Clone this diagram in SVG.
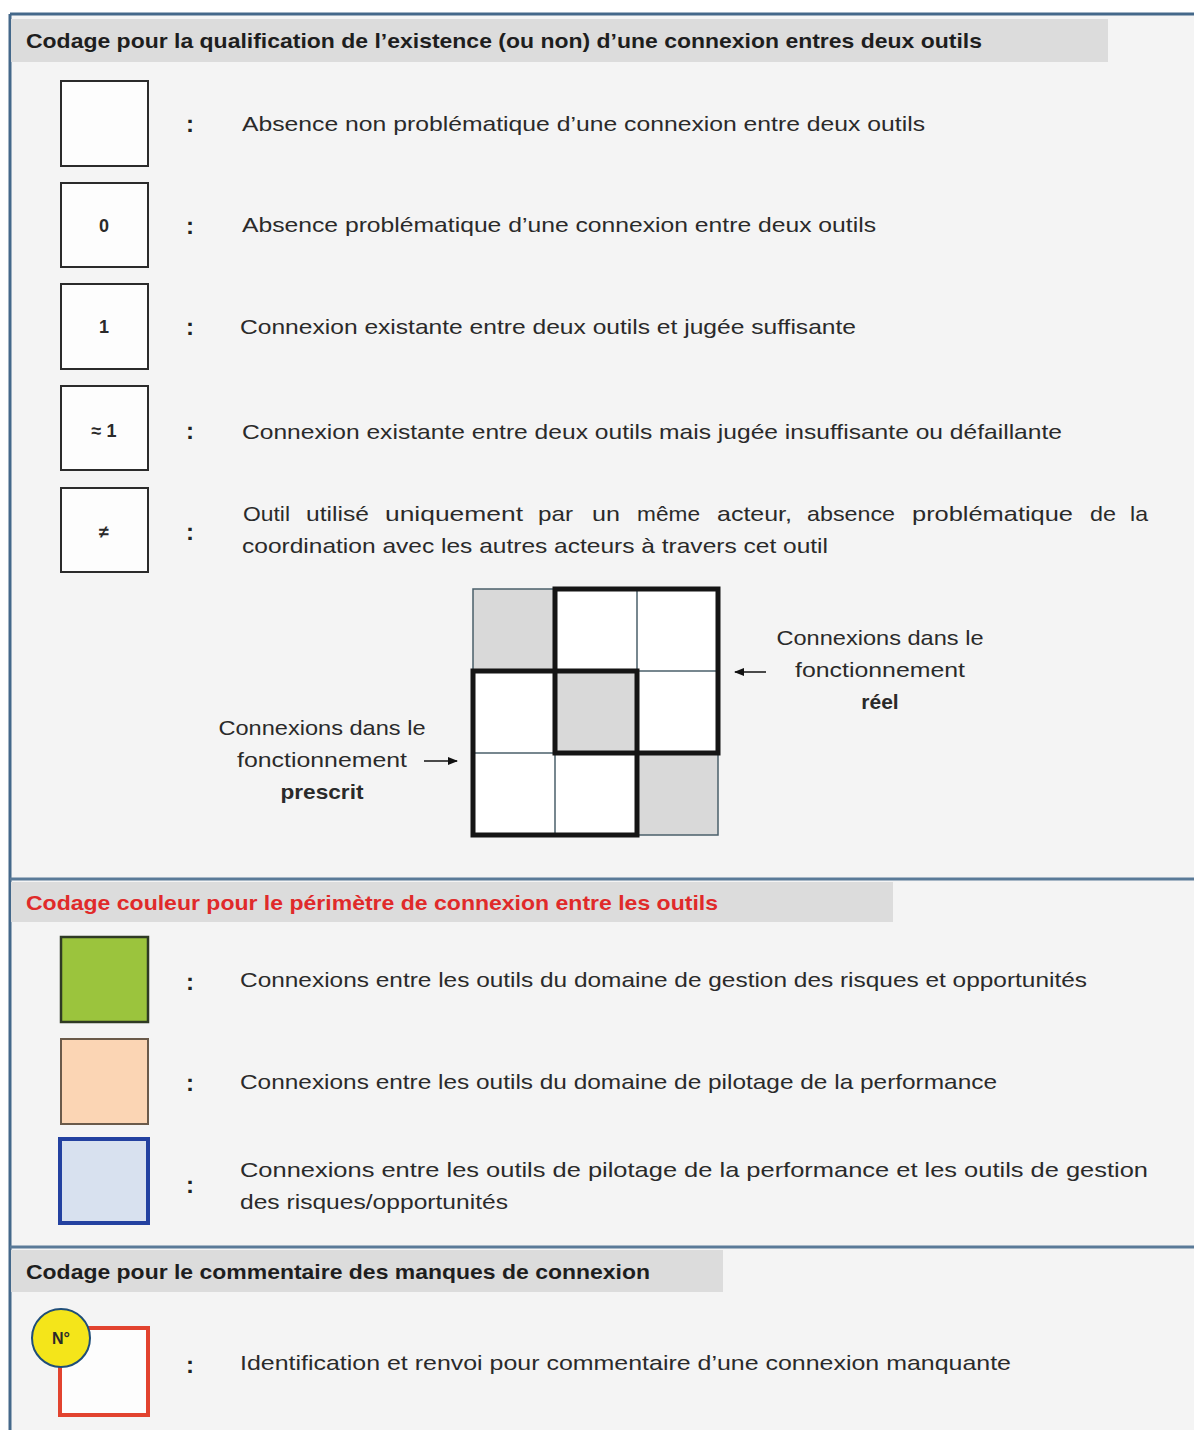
<svg xmlns="http://www.w3.org/2000/svg" width="1194" height="1430" viewBox="0 0 1194 1430">
<style>
.t{font-family:"Liberation Sans",Arial,sans-serif;font-size:21px;fill:#2a2a2a}
.h{font-family:"Liberation Sans",Arial,sans-serif;font-size:21px;font-weight:bold;fill:#1e1e1e}
.b{font-weight:bold}
.c{font-family:"Liberation Sans",Arial,sans-serif;font-size:24px;font-weight:bold;fill:#222}
.box{fill:#fdfdfd;stroke:#2b2b2b;stroke-width:2}
.bar{fill:#dcdcdc}
.sep{stroke:#5a7a98;stroke-width:3}
.thin{stroke:#4a5f6a;stroke-width:1.5;fill:none}
.thick{stroke:#151515;stroke-width:5;fill:none}
.arr{stroke:#111;stroke-width:1.5}
</style>
<defs>
<marker id="ah" markerWidth="10" markerHeight="8" refX="9" refY="4" orient="auto" markerUnits="userSpaceOnUse">
<path d="M0,0 L10,4 L0,8 Z" fill="#111"/>
</marker>
</defs>
<rect x="0" y="0" width="1194" height="1430" fill="#ffffff"/>
<rect x="10" y="14" width="1184" height="1416" fill="#f4f4f4"/>
<line x1="10" y1="14" x2="1194" y2="14" stroke="#44688a" stroke-width="3"/>
<line x1="10" y1="14" x2="10" y2="1430" stroke="#44688a" stroke-width="3"/>

<!-- Section 1 -->
<g id="header1">
<rect class="bar" x="11" y="19" width="1097" height="43"/>
<text class="h" x="26" y="48" textLength="956" lengthAdjust="spacingAndGlyphs">Codage pour la qualification de l’existence (ou non) d’une connexion entres deux outils</text>
</g>
<g id="item1">
<rect class="box" x="61" y="81" width="87" height="85"/>
<text class="c" x="190" y="132" text-anchor="middle">:</text>
<text class="t" x="242" y="131" textLength="683" lengthAdjust="spacingAndGlyphs">Absence non problématique d’une connexion entre deux outils</text>
</g>
<g id="item2">
<rect class="box" x="61" y="183" width="87" height="84"/>
<text class="t b" x="104" y="232" text-anchor="middle" style="font-size:18px">0</text>
<text class="c" x="190" y="234" text-anchor="middle">:</text>
<text class="t" x="242" y="232" textLength="634" lengthAdjust="spacingAndGlyphs">Absence problématique d’une connexion entre deux outils</text>
</g>
<g id="item3">
<rect class="box" x="61" y="284" width="87" height="85"/>
<text class="t b" x="104" y="333" text-anchor="middle" style="font-size:18px">1</text>
<text class="c" x="190" y="335" text-anchor="middle">:</text>
<text class="t" x="240" y="334" textLength="616" lengthAdjust="spacingAndGlyphs">Connexion existante entre deux outils et jugée suffisante</text>
</g>
<g id="item4">
<rect class="box" x="61" y="386" width="87" height="84"/>
<text class="t b" x="104" y="437" text-anchor="middle" style="font-size:18px">≈ 1</text>
<text class="c" x="190" y="439" text-anchor="middle">:</text>
<text class="t" x="242" y="439" textLength="820" lengthAdjust="spacingAndGlyphs">Connexion existante entre deux outils mais jugée insuffisante ou défaillante</text>
</g>
<g id="item5">
<rect class="box" x="61" y="488" width="87" height="84"/>
<text class="t b" x="104" y="538" text-anchor="middle" style="font-size:18px">≠</text>
<text class="c" x="190" y="540" text-anchor="middle">:</text>
<text class="t" x="243" y="521" textLength="47" lengthAdjust="spacingAndGlyphs">Outil</text>
<text class="t" x="306" y="521" textLength="63" lengthAdjust="spacingAndGlyphs">utilisé</text>
<text class="t" x="385" y="521" textLength="138" lengthAdjust="spacingAndGlyphs">uniquement</text>
<text class="t" x="538" y="521" textLength="35" lengthAdjust="spacingAndGlyphs">par</text>
<text class="t" x="592" y="521" textLength="28" lengthAdjust="spacingAndGlyphs">un</text>
<text class="t" x="637" y="521" textLength="63" lengthAdjust="spacingAndGlyphs">même</text>
<text class="t" x="717" y="521" textLength="75" lengthAdjust="spacingAndGlyphs">acteur,</text>
<text class="t" x="807" y="521" textLength="88" lengthAdjust="spacingAndGlyphs">absence</text>
<text class="t" x="912" y="521" textLength="161" lengthAdjust="spacingAndGlyphs">problématique</text>
<text class="t" x="1090" y="521" textLength="26" lengthAdjust="spacingAndGlyphs">de</text>
<text class="t" x="1130" y="521" textLength="18" lengthAdjust="spacingAndGlyphs">la</text>
<text class="t" x="242" y="553" textLength="586" lengthAdjust="spacingAndGlyphs">coordination avec les autres acteurs à travers cet outil</text>
</g>

<!-- Grid -->
<g id="grid">
<rect x="473" y="589" width="245" height="246" fill="#ffffff"/>
<rect x="473" y="589" width="82" height="82" fill="#d9d9d9"/>
<rect x="555" y="671" width="82" height="82" fill="#d9d9d9"/>
<rect x="637" y="753" width="81" height="82" fill="#d9d9d9"/>
<rect class="thin" x="473" y="589" width="245" height="246"/>
<line class="thin" x1="555" y1="589" x2="555" y2="835"/>
<line class="thin" x1="637" y1="589" x2="637" y2="835"/>
<line class="thin" x1="473" y1="671" x2="718" y2="671"/>
<line class="thin" x1="473" y1="753" x2="718" y2="753"/>
</g>
<g id="reel">
<rect class="thick" x="555" y="589" width="163" height="164"/>
</g>
<g id="prescrit">
<rect class="thick" x="473" y="671" width="164" height="164"/>
</g>
<g id="label-reel">
<text class="t" x="880" y="645" text-anchor="middle" textLength="207" lengthAdjust="spacingAndGlyphs">Connexions dans le</text>
<text class="t" x="880" y="677" text-anchor="middle" textLength="170" lengthAdjust="spacingAndGlyphs">fonctionnement</text>
<text class="t b" x="880" y="709" text-anchor="middle">réel</text>
</g>
<g id="label-prescrit">
<text class="t" x="322" y="735" text-anchor="middle" textLength="207" lengthAdjust="spacingAndGlyphs">Connexions dans le</text>
<text class="t" x="322" y="767" text-anchor="middle" textLength="170" lengthAdjust="spacingAndGlyphs">fonctionnement</text>
<text class="t b" x="322" y="799" text-anchor="middle" textLength="83" lengthAdjust="spacingAndGlyphs">prescrit</text>
</g>
<g id="connectors">
<line class="arr" x1="766" y1="672" x2="735" y2="672" marker-end="url(#ah)"/>
<line class="arr" x1="424" y1="761" x2="457" y2="761" marker-end="url(#ah)"/>
</g>

<!-- Section 2 -->
<line class="sep" x1="10" y1="879" x2="1194" y2="879"/>
<g id="header2">
<rect class="bar" x="11" y="882" width="882" height="40"/>
<text class="h" x="26" y="910" style="fill:#e02a2a" textLength="692" lengthAdjust="spacingAndGlyphs">Codage couleur pour le périmètre de connexion entre les outils</text>
</g>
<g id="green">
<rect x="61" y="937" width="87" height="85" fill="#9bc43d" stroke="#2f3a24" stroke-width="2.5"/>
<text class="c" x="190" y="990" text-anchor="middle">:</text>
<text class="t" x="240" y="987" textLength="847" lengthAdjust="spacingAndGlyphs">Connexions entre les outils du domaine de gestion des risques et opportunités</text>
</g>
<g id="peach">
<rect x="61" y="1039" width="87" height="85" fill="#fbd5b4" stroke="#6a5a4a" stroke-width="2"/>
<text class="c" x="190" y="1091" text-anchor="middle">:</text>
<text class="t" x="240" y="1089" textLength="757" lengthAdjust="spacingAndGlyphs">Connexions entre les outils du domaine de pilotage de la performance</text>
</g>
<g id="blue">
<rect x="60" y="1139" width="88" height="84" fill="#d8e1ef" stroke="#2341a0" stroke-width="4"/>
<text class="c" x="190" y="1193" text-anchor="middle">:</text>
<text class="t" x="240" y="1177" textLength="908" lengthAdjust="spacingAndGlyphs">Connexions entre les outils de pilotage de la performance et les outils de gestion</text>
<text class="t" x="240" y="1209" textLength="268" lengthAdjust="spacingAndGlyphs">des risques/opportunités</text>
</g>

<!-- Section 3 -->
<line class="sep" x1="10" y1="1247" x2="1194" y2="1247"/>
<g id="header3">
<rect class="bar" x="11" y="1250" width="712" height="42"/>
<text class="h" x="26" y="1279" textLength="624" lengthAdjust="spacingAndGlyphs">Codage pour le commentaire des manques de connexion</text>
</g>
<g id="missing">
<rect x="60" y="1328" width="88" height="87" fill="#fdfdfd" stroke="#e2432f" stroke-width="4"/>
<circle cx="61" cy="1338" r="29" fill="#f4e51a" stroke="#1f4e79" stroke-width="2"/>
<text class="t b" x="61" y="1344" text-anchor="middle" style="font-size:16px">N°</text>
<text class="c" x="190" y="1373" text-anchor="middle">:</text>
<text class="t" x="240" y="1370" textLength="771" lengthAdjust="spacingAndGlyphs">Identification et renvoi pour commentaire d’une connexion manquante</text>
</g>
</svg>
